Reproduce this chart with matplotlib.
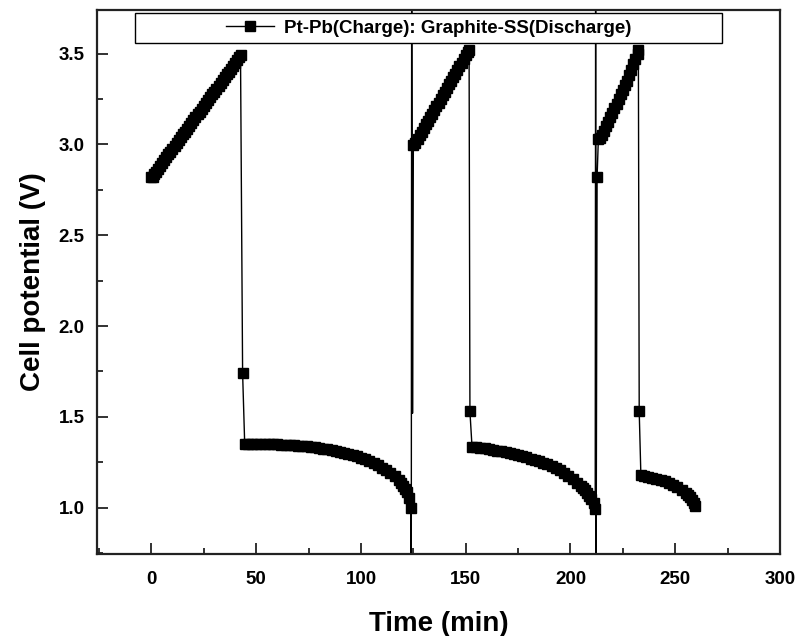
import numpy as np
import matplotlib.pyplot as plt
from matplotlib.lines import Line2D
from matplotlib.patches import Rectangle
from matplotlib.ticker import MultipleLocator, FormatStrFormatter

plt.rcParams['font.family'] = ['Liberation Sans', 'DejaVu Sans']

# cycle 1 : charge (Pt-Pb)
charge1_t = [0, 0.6, 1, 2, 3, 4, 5, 6, 7, 8, 9, 10, 11, 12, 13, 14, 15, 16,
             17, 18, 19, 20, 21, 22, 23, 24, 25, 26, 27, 28, 29, 30, 31, 32,
             33, 34, 35, 36, 37, 38, 39, 40, 41, 42, 42.5]
charge1_v = [2.82, 2.82, 2.835, 2.85, 2.865, 2.88, 2.90, 2.915, 2.93, 2.945,
             2.96, 2.975, 2.99, 3.01, 3.025, 3.04, 3.055, 3.07, 3.085, 3.10,
             3.12, 3.135, 3.15, 3.165, 3.18, 3.195, 3.21, 3.23, 3.245, 3.26,
             3.275, 3.29, 3.305, 3.32, 3.34, 3.355, 3.37, 3.385, 3.40, 3.415,
             3.43, 3.45, 3.465, 3.48, 3.49]

# cycle 1 : discharge (Graphite-SS)
discharge1_t = [44.5, 46, 48, 50, 52, 54, 56, 58, 60, 62, 64, 66, 68, 70, 72,
                74, 76, 78, 80, 82, 84, 86, 88, 90, 92, 94, 96, 98, 100, 102,
                104, 106, 108, 110, 112, 114, 116, 118, 119, 120, 121, 122,
                123, 123.8]
discharge1_v = [1.35, 1.35, 1.35, 1.35, 1.35, 1.35, 1.349, 1.349, 1.348,
                1.347, 1.346, 1.345, 1.344, 1.342, 1.34, 1.337, 1.335, 1.332,
                1.329, 1.325, 1.321, 1.317, 1.312, 1.307, 1.302, 1.296, 1.29,
                1.283, 1.275, 1.266, 1.256, 1.245, 1.233, 1.22, 1.206, 1.19,
                1.172, 1.15, 1.137, 1.122, 1.105, 1.085, 1.055, 1.0]

# cycle 2
charge2_t = [125.0, 126, 127, 128, 129, 130, 131, 132, 133, 134, 135, 136,
             137, 138, 139, 140, 141, 142, 143, 144, 145, 146, 147, 148, 149,
             150, 151, 151.6]
charge2_v = [2.995, 3.01, 3.03, 3.05, 3.07, 3.09, 3.11, 3.13, 3.15, 3.17,
             3.19, 3.21, 3.23, 3.25, 3.27, 3.29, 3.31, 3.33, 3.35, 3.37, 3.39,
             3.41, 3.43, 3.45, 3.47, 3.49, 3.51, 3.52]

discharge2_t = [153.0, 155, 157, 159, 161, 163, 165, 167, 169, 171, 173, 175,
                177, 179, 181, 183, 185, 187, 189, 191, 193, 195, 197, 199,
                201, 203, 205, 206, 207, 208, 209, 210, 211, 211.8]
discharge2_v = [1.335, 1.332, 1.329, 1.326, 1.322, 1.318, 1.314, 1.31, 1.305,
                1.30, 1.295, 1.289, 1.283, 1.277, 1.27, 1.263, 1.256, 1.248,
                1.239, 1.229, 1.218, 1.206, 1.192, 1.176, 1.158, 1.138, 1.118,
                1.107, 1.095, 1.082, 1.066, 1.048, 1.025, 0.99]

# cycle 3
charge3_t = [212.7, 213.3, 214, 215, 216, 217, 218, 219, 220, 221, 222, 223,
             224, 225, 226, 227, 228, 229, 230, 231, 232, 232.4]
charge3_v = [2.82, 3.03, 3.035, 3.05, 3.075, 3.10, 3.125, 3.15, 3.175, 3.20,
             3.225, 3.25, 3.275, 3.30, 3.325, 3.35, 3.38, 3.41, 3.44, 3.47,
             3.50, 3.52]

discharge3_t = [233.6, 235, 237, 239, 241, 243, 245, 247, 249, 251, 253, 255,
                256, 257, 258, 259, 259.6]
discharge3_v = [1.178, 1.175, 1.171, 1.166, 1.16, 1.153, 1.145, 1.136, 1.125,
                1.112, 1.097, 1.08, 1.07, 1.058, 1.045, 1.028, 1.01]

# single points right after each charge cut-off
drop_t = [43.5, 152.0, 232.8]
drop_v = [1.74, 1.53, 1.53]

# switching spikes (recorded without symbols)
spike1_t = [124.0, 124.2, 124.6]
spike1_v = [0.50, 3.95, 1.52]
spike2_t = [212.0, 212.2]
spike2_v = [3.95, 0.50]

label = 'Pt-Pb(Charge): Graphite-SS(Discharge)'

# full trace in recording order
segments = [
    (charge1_t, charge1_v, True),
    (drop_t[:1], drop_v[:1], True),
    (discharge1_t, discharge1_v, True),
    (spike1_t, spike1_v, False),
    (charge2_t, charge2_v, True),
    (drop_t[1:2], drop_v[1:2], True),
    (discharge2_t, discharge2_v, True),
    (spike2_t, spike2_v, False),
    (charge3_t, charge3_v, True),
    (drop_t[2:], drop_v[2:], True),
    (discharge3_t, discharge3_v, True),
]
t_all = np.concatenate([s[0] for s in segments])
v_all = np.concatenate([s[1] for s in segments])
t_mark = np.concatenate([s[0] for s in segments if s[2]])
v_mark = np.concatenate([s[1] for s in segments if s[2]])

fig = plt.figure(figsize=(8.08, 6.36), dpi=100)
ax = fig.add_axes([97/808, 82/636, 683/808, 544/636])

ax.plot(t_all, v_all, color='black', lw=1.0, zorder=2)
ax.plot(t_mark, v_mark, ls='none', marker='s', ms=7, color='black', zorder=3)

ax.set_xlim(-26, 300)
ax.set_ylim(0.745, 3.74)
ax.xaxis.set_major_locator(MultipleLocator(50))
ax.xaxis.set_minor_locator(MultipleLocator(25))
ax.yaxis.set_major_locator(MultipleLocator(0.5))
ax.yaxis.set_minor_locator(MultipleLocator(0.25))
ax.yaxis.set_major_formatter(FormatStrFormatter('%.1f'))

ax.tick_params(which='both', direction='in', width=1.3, color='#222222')
ax.tick_params(which='major', length=8)
ax.tick_params(which='minor', length=4)
ax.tick_params(axis='x', pad=12)
ax.tick_params(axis='y', pad=9)
for lab in ax.get_xticklabels() + ax.get_yticklabels():
    lab.set_fontsize(13.5)
    lab.set_fontweight('bold')
for sp in ax.spines.values():
    sp.set_linewidth(1.6)
    sp.set_color('#222222')

ax.set_xlabel('Time (min)', fontsize=20, fontweight='bold', labelpad=17)
ax.set_ylabel('Cell potential (V)', fontsize=20, fontweight='bold', labelpad=9)

# legend box
box = Rectangle((0.0556, 0.939), 0.859, 0.0555, transform=ax.transAxes,
                facecolor='white', edgecolor='black', lw=1.0, zorder=5)
ax.add_patch(box)
handle = Line2D([], [], color='black', lw=1.0, marker='s', ms=7)
leg = ax.legend([handle], [label], loc='center',
                bbox_to_anchor=(0.0556 + 0.859/2, 0.939 + 0.0555/2),
                frameon=False, handlelength=2.6, handletextpad=0.5,
                prop={'size': 13.5, 'weight': 'bold'})
leg.set_zorder(6)

fig.savefig('out.png', dpi=100)
